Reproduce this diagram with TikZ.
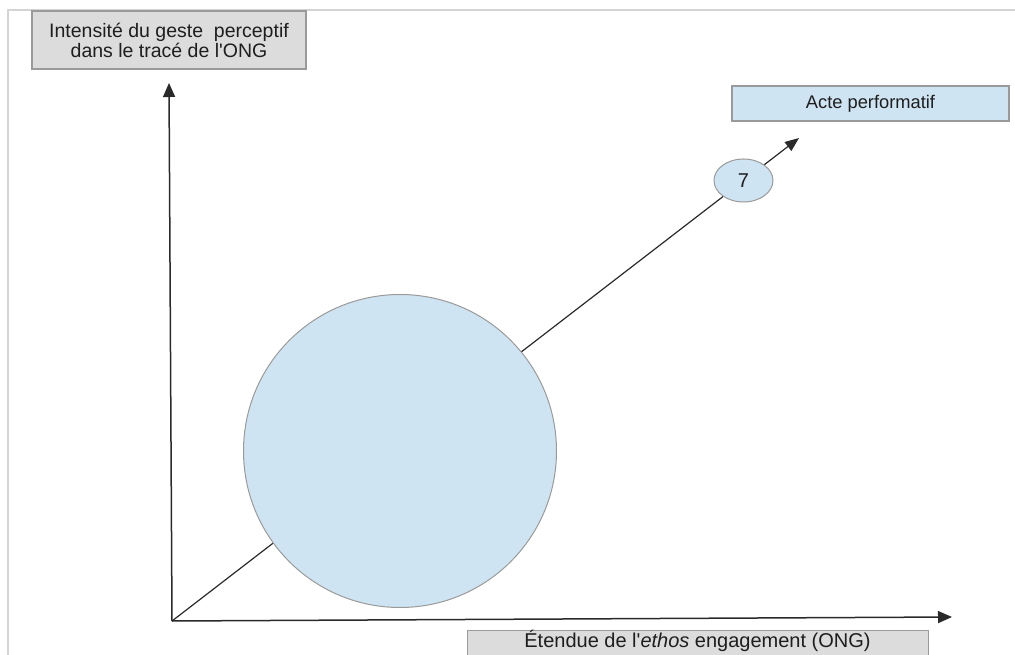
\documentclass[tikz,border=0pt]{standalone}
\usepackage{fontspec}
\setmainfont{Liberation Sans}
\usepackage{textcomp}
\usetikzlibrary{arrows.meta,shapes.geometric}
\definecolor{boxgray}{HTML}{DCDCDC}
\definecolor{boxedge}{HTML}{9A9A9A}
\definecolor{paleblue}{HTML}{CFE4F2}
\definecolor{inkline}{HTML}{2A2A2A}
\definecolor{framegray}{HTML}{D4D4D4}
\definecolor{textdark}{HTML}{1E1E1E}
\tikzset{
  graybox/.style={draw=boxedge, line width=1.2pt, fill=boxgray, text=textdark, inner sep=0pt, align=center},
  bluebox/.style={draw=boxedge, line width=1.2pt, fill=paleblue, text=textdark, inner sep=0pt, align=center},
  axis/.style={draw=inkline, line width=1.5pt, -{Triangle[length=14pt,width=12pt]}},
  diag/.style={draw=inkline, line width=1.2pt, -{Triangle[length=14pt,width=11pt]}},
}
\begin{document}
\begin{tikzpicture}[x=1pt,y=-1pt]
\useasboundingbox (0,0) rectangle (1015,655);
% frame
\draw[framegray, line width=1.2pt] (8,660) -- (8,10) -- (1020,10);
% axes
\coordinate (O) at (172,621);
\coordinate (ytip) at (169,83);
\coordinate (xtip) at (952,617);
\coordinate (dtip) at (799,138);
\draw[axis] (O) -- (ytip);
\draw[axis] (O) -- (xtip);
\draw[diag] (O) -- (dtip);
% nodes
\node[graybox, minimum width=274pt, minimum height=58pt, font=\fontsize{19.5}{20}\selectfont] (ylab) at (169,40) {Intensité du geste~ perceptif\\dans le tracé de l\textquotesingle ONG};
\node[bluebox, minimum width=277pt, minimum height=35pt, font=\fontsize{18.3}{20}\selectfont] (acte) at (870.5,103.5) {Acte performatif};
\node[graybox, minimum width=461pt, minimum height=34pt, anchor=north west] (xlab) at (467,630) {};
\node[text=textdark, font=\fontsize{20}{20}\selectfont] (xlabtext) at (697.5,641) {Étendue de l\textquotesingle\textit{ethos} engagement (ONG)};
\node[circle, draw=boxedge, line width=1pt, fill=paleblue, minimum size=313pt, inner sep=0pt] (big) at (400,451) {};
\node[ellipse, draw=boxedge, line width=1pt, fill=paleblue, minimum width=59pt, minimum height=43pt, inner sep=0pt, text=textdark, font=\fontsize{20}{20}\selectfont] (seven) at (743.5,180.5) {7};
\end{tikzpicture}
\end{document}
